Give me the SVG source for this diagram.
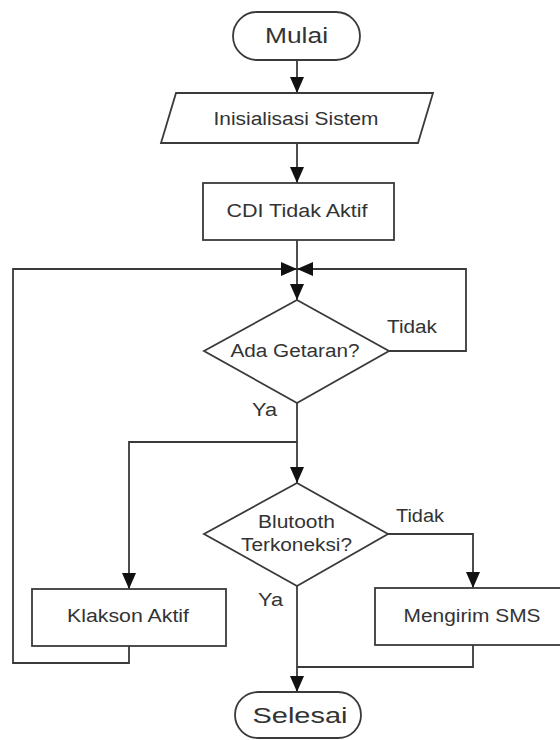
<svg xmlns="http://www.w3.org/2000/svg" width="560" height="740" viewBox="0 0 560 740">
<defs>
<style>
.s{fill:#fff;stroke:#3a3a3a;stroke-width:1.8}
.c{fill:none;stroke:#3a3a3a;stroke-width:1.8}
.t{font-family:"Liberation Sans",Arial,sans-serif;font-size:18px;fill:#333;text-anchor:middle}
.tl{font-family:"Liberation Sans",Arial,sans-serif;font-size:18px;fill:#333}
.big{font-size:22px}
</style>
<marker id="ah" markerUnits="userSpaceOnUse" markerWidth="18" markerHeight="14" refX="16" refY="7" orient="auto">
<path d="M0,0 L16,7 L0,14 Z" fill="#111"/>
</marker>
</defs>
<rect width="560" height="740" fill="#fff"/>
<g id="connectors">
<path class="c" d="M297,60 V93" marker-end="url(#ah)"/>
<path class="c" d="M297,143 V183" marker-end="url(#ah)"/>
<path class="c" d="M297,240 V300" marker-end="url(#ah)"/>
<path class="c" d="M129,646 V663 H13 V269 H297" marker-end="url(#ah)"/>
<path class="c" d="M389,351 H466 V269 H297" marker-end="url(#ah)"/>
<path class="c" d="M297,403 V483" marker-end="url(#ah)"/>
<path class="c" d="M297,442 H129 V589" marker-end="url(#ah)"/>
<path class="c" d="M388,534 H473 V588" marker-end="url(#ah)"/>
<path class="c" d="M297,586 V692" marker-end="url(#ah)"/>
<path class="c" d="M473,645 V667 H297"/>
<text class="tl" x="387" y="333" textLength="50" lengthAdjust="spacingAndGlyphs">Tidak</text>
<text class="tl" x="252" y="416" textLength="25" lengthAdjust="spacingAndGlyphs">Ya</text>
<text class="tl" x="396" y="522" textLength="48" lengthAdjust="spacingAndGlyphs">Tidak</text>
<text class="tl" x="258" y="606" textLength="25" lengthAdjust="spacingAndGlyphs">Ya</text>
</g>
<g id="mulai">
<rect class="s" x="233" y="12" width="127" height="48" rx="24" ry="24"/>
<text class="t big" x="296.5" y="43" textLength="63" lengthAdjust="spacingAndGlyphs">Mulai</text>
</g>
<g id="inisialisasi">
<polygon class="s" points="176,93 433,93 418,143 161,143"/>
<text class="t" x="296" y="125" textLength="165" lengthAdjust="spacingAndGlyphs">Inisialisasi Sistem</text>
</g>
<g id="cdi">
<rect class="s" x="203" y="183" width="191" height="57"/>
<text class="t" x="297" y="217" textLength="141" lengthAdjust="spacingAndGlyphs">CDI Tidak Aktif</text>
</g>
<g id="getaran">
<polygon class="s" points="297,300 389,351 297,403 204,351"/>
<text class="t" x="295" y="357" textLength="129" lengthAdjust="spacingAndGlyphs">Ada Getaran?</text>
</g>
<g id="bluetooth">
<polygon class="s" points="297,483 388,534 297,586 204,534"/>
<text class="t" x="296.5" y="528" textLength="77" lengthAdjust="spacingAndGlyphs">Blutooth</text>
<text class="t" x="296.5" y="551" textLength="111" lengthAdjust="spacingAndGlyphs">Terkoneksi?</text>
</g>
<g id="klakson">
<rect class="s" x="32" y="589" width="194" height="57"/>
<text class="t" x="128" y="622" textLength="122" lengthAdjust="spacingAndGlyphs">Klakson Aktif</text>
</g>
<g id="sms">
<rect class="s" x="375" y="588" width="196" height="57"/>
<text class="t" x="472" y="622" textLength="137" lengthAdjust="spacingAndGlyphs">Mengirim SMS</text>
</g>
<g id="selesai">
<rect class="s" x="235" y="692" width="126" height="46" rx="23" ry="23"/>
<text class="t big" x="300" y="723" textLength="95" lengthAdjust="spacingAndGlyphs">Selesai</text>
</g>
</svg>
